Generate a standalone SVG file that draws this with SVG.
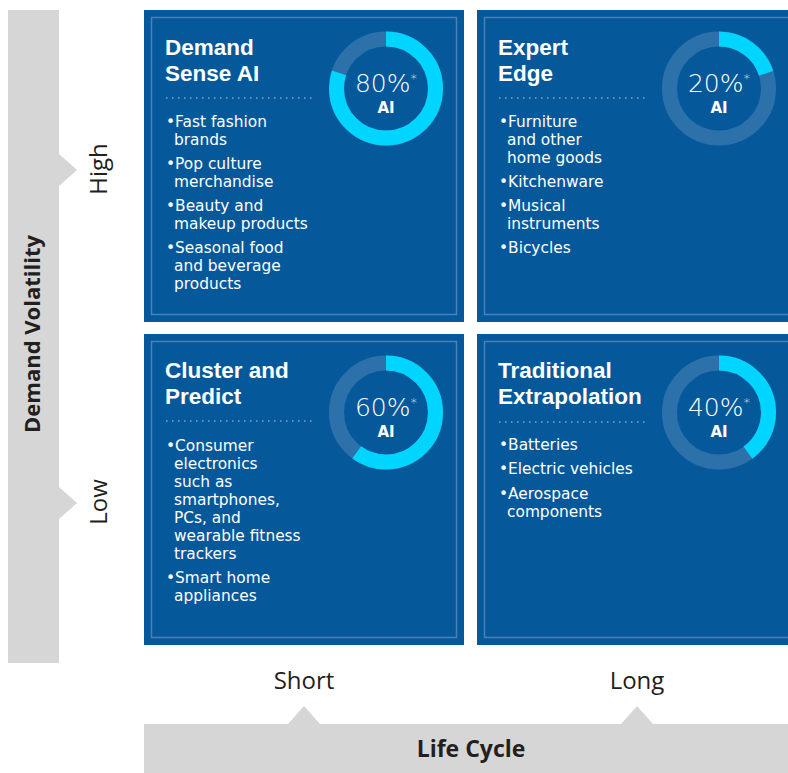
<svg xmlns="http://www.w3.org/2000/svg" width="788" height="773" viewBox="0 0 788 773">
  <defs>
    <style>
      .panel { fill: #05599B; }
      .inner { fill: none; stroke: #4A80B6; stroke-width: 1.5; }
      .dots { stroke: #7FA5CB; stroke-width: 1.5; stroke-dasharray: 1.5 4.5; fill: none; }
      .title { font-family: "Liberation Sans", "Open Sans", sans-serif; font-weight: 700; font-size: 22.5px; fill: #FFFFFF; }
      .item { font-family: "DejaVu Sans", "Liberation Sans", sans-serif; font-weight: 400; font-size: 15.4px; fill: #FFFFFF; }
      .pct { font-family: "DejaVu Sans", "Liberation Sans", sans-serif; font-weight: 300; font-size: 25px; fill: #FFFFFF; text-anchor: middle; }
      .star { font-size: 13px; }
      .ai { font-family: "DejaVu Sans", "Liberation Sans", sans-serif; font-weight: 700; font-size: 15px; fill: #FFFFFF; text-anchor: middle; }
      .track { fill: none; stroke: #2C71AA; stroke-width: 15; }
      .ring { fill: none; stroke: #00D5FF; stroke-width: 15; }
      .bar { fill: #D6D6D6; }
      .axis { font-family: "Open Sans", "Liberation Sans", sans-serif; font-weight: 400; font-size: 24px; fill: #231F20; text-anchor: middle; }
      .axis-title { font-family: "Open Sans", "Liberation Sans", sans-serif; font-weight: 700; font-size: 22px; fill: #231F20; text-anchor: middle; }
    </style>
  </defs>

  <rect width="788" height="773" fill="#FFFFFF"/>

  <!-- Axes -->
  <g id="axes">
    <polygon class="bar" points="8,10 59,10 59,154 77,170 59,186 59,487 77,503 59,519 59,663 8,663"/>
    <polygon class="bar" points="144,724 288,724 304,706 320,724 621,724 637,706 653,724 788,724 788,773 144,773"/>
    <text class="axis-title" transform="translate(40,334) rotate(-90)">Demand Volatility</text>
    <text class="axis" transform="translate(107,169) rotate(-90)">High</text>
    <text class="axis" transform="translate(107,502) rotate(-90)">Low</text>
    <text class="axis" x="304" y="689">Short</text>
    <text class="axis" x="637" y="689">Long</text>
    <text class="axis-title" x="471" y="757" style="font-size:23px">Life Cycle</text>
  </g>

  <!-- High volatility, short life cycle -->
  <g id="demand-sense-ai">
    <rect class="panel" x="144" y="10" width="320" height="312"/>
    <rect class="inner" x="151.5" y="17.5" width="305" height="297"/>
    <text class="title" x="165" y="55">Demand<tspan x="165" y="81">Sense AI</tspan></text>
    <line class="dots" x1="166" y1="98" x2="314" y2="98"/>
    <text class="item" x="166" y="127">•Fast fashion<tspan x="174" dy="18">brands</tspan></text>
    <text class="item" x="166" y="169">•Pop culture<tspan x="174" dy="18">merchandise</tspan></text>
    <text class="item" x="166" y="211">•Beauty and<tspan x="174" dy="18">makeup products</tspan></text>
    <text class="item" x="166" y="253">•Seasonal food<tspan x="174" dy="18">and beverage</tspan><tspan x="174" dy="18">products</tspan></text>
    <circle class="track" cx="386" cy="88.5" r="49.5"/>
    <circle class="ring" cx="386" cy="88.5" r="49.5" stroke-dasharray="248.8 400" transform="rotate(-90 386 88.5)"/>
    <text class="pct" x="386" y="92">80%<tspan class="star" dy="-9">*</tspan></text>
    <text class="ai" x="386" y="113">AI</text>
  </g>

  <!-- High volatility, long life cycle -->
  <g id="expert-edge">
    <rect class="panel" x="477" y="10" width="330" height="312"/>
    <rect class="inner" x="484.5" y="17.5" width="320" height="297"/>
    <text class="title" x="498" y="55">Expert<tspan x="498" y="81">Edge</tspan></text>
    <line class="dots" x1="499" y1="98" x2="647" y2="98"/>
    <text class="item" x="499" y="127">•Furniture<tspan x="507" dy="18">and other</tspan><tspan x="507" dy="18">home goods</tspan></text>
    <text class="item" x="499" y="187">•Kitchenware</text>
    <text class="item" x="499" y="211">•Musical<tspan x="507" dy="18">instruments</tspan></text>
    <text class="item" x="499" y="253">•Bicycles</text>
    <circle class="track" cx="719" cy="88.5" r="49.5"/>
    <circle class="ring" cx="719" cy="88.5" r="49.5" stroke-dasharray="62.2 400" transform="rotate(-90 719 88.5)"/>
    <text class="pct" x="719" y="92">20%<tspan class="star" dy="-9">*</tspan></text>
    <text class="ai" x="719" y="113">AI</text>
  </g>

  <!-- Low volatility, short life cycle -->
  <g id="cluster-and-predict">
    <rect class="panel" x="144" y="334" width="320" height="311"/>
    <rect class="inner" x="151.5" y="341.5" width="305" height="296"/>
    <text class="title" x="165" y="378">Cluster and<tspan x="165" y="404">Predict</tspan></text>
    <line class="dots" x1="166" y1="421" x2="314" y2="421"/>
    <text class="item" x="166" y="451">•Consumer<tspan x="174" dy="18">electronics</tspan><tspan x="174" dy="18">such as</tspan><tspan x="174" dy="18">smartphones,</tspan><tspan x="174" dy="18">PCs, and</tspan><tspan x="174" dy="18">wearable fitness</tspan><tspan x="174" dy="18">trackers</tspan></text>
    <text class="item" x="166" y="583">•Smart home<tspan x="174" dy="18">appliances</tspan></text>
    <circle class="track" cx="386" cy="412.5" r="49.5"/>
    <circle class="ring" cx="386" cy="412.5" r="49.5" stroke-dasharray="186.6 400" transform="rotate(-90 386 412.5)"/>
    <text class="pct" x="386" y="416">60%<tspan class="star" dy="-9">*</tspan></text>
    <text class="ai" x="386" y="437">AI</text>
  </g>

  <!-- Low volatility, long life cycle -->
  <g id="traditional-extrapolation">
    <rect class="panel" x="477" y="334" width="330" height="311"/>
    <rect class="inner" x="484.5" y="341.5" width="320" height="296"/>
    <text class="title" x="498" y="378">Traditional<tspan x="498" y="404">Extrapolation</tspan></text>
    <line class="dots" x1="499" y1="422" x2="647" y2="422"/>
    <text class="item" x="499" y="450">•Batteries</text>
    <text class="item" x="499" y="474">•Electric vehicles</text>
    <text class="item" x="499" y="499">•Aerospace<tspan x="507" dy="18">components</tspan></text>
    <circle class="track" cx="719" cy="412.5" r="49.5"/>
    <circle class="ring" cx="719" cy="412.5" r="49.5" stroke-dasharray="124.4 400" transform="rotate(-90 719 412.5)"/>
    <text class="pct" x="719" y="416">40%<tspan class="star" dy="-9">*</tspan></text>
    <text class="ai" x="719" y="437">AI</text>
  </g>
</svg>
